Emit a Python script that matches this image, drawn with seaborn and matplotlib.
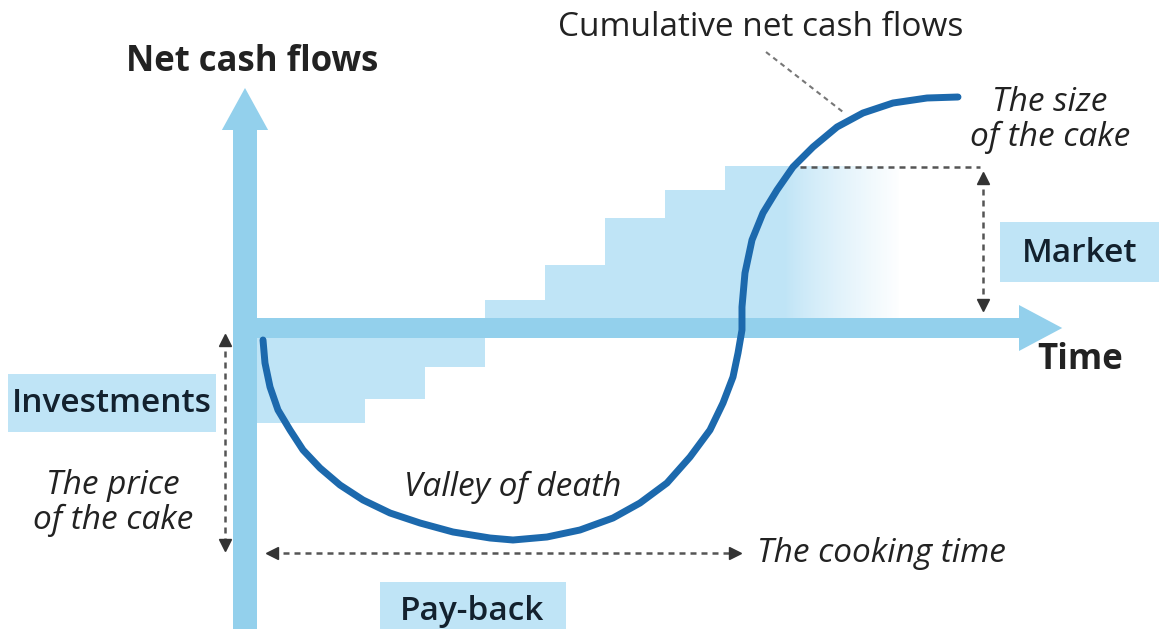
import matplotlib
matplotlib.use("Agg")
import numpy as np
import matplotlib.pyplot as plt
from matplotlib.patches import Rectangle, FancyArrow
from matplotlib.transforms import Affine2D
import seaborn as sns

# net cash flow per period (step bars)
period_start = [0, 2, 3, 4, 5, 6, 7, 8]
period_width = [2, 1, 1, 1, 1, 1, 1, 2.9]
cash_flow = [-9.5, -7.1, -3.9, 2.8, 6.3, 11.0, 13.8, 16.2]

# cumulative net cash flows
curve_t = [0.300, 0.333, 0.417, 0.550, 0.750, 0.967, 1.250, 1.583, 1.967, 2.417,
           2.917, 3.467, 4.083, 4.467, 5.033, 5.583, 6.133, 6.583, 7.033, 7.417,
           7.750, 7.967, 8.133, 8.217, 8.283, 8.283, 8.333, 8.450, 8.633, 8.867,
           9.133, 9.467, 9.867, 10.300, 10.800, 11.367, 11.883]
curve_v = [-1.2, -3.5, -5.9, -8.2, -10.2, -12.2, -14.0, -15.7, -17.2, -18.5,
           -19.5, -20.4, -21.0, -21.2, -20.9, -20.2, -19.0, -17.5, -15.5, -12.9,
           -10.2, -7.5, -4.9, -2.5, -0.2, 2.1, 5.5, 8.8, 11.5, 13.8,
           16.1, 18.1, 20.1, 21.5, 22.5, 23.0, 23.1]

W, H = 1159, 629
AXIS_BLUE = "#93d0ec"
BAR_BLUE = "#bfe4f6"
CURVE_BLUE = "#1c69ad"
DARK = "#222222"
BOX_TEXT = "#13212e"
GREY = "#555555"

sns.set_style("white")
plt.rcParams["font.family"] = ["Open Sans", "DejaVu Sans"]

fig = plt.figure(figsize=(W / 100, H / 100), dpi=100)
ax = fig.add_axes([0, 0, 1, 1])

# pixel transform for the annotations (origin top-left)
pix = Affine2D().scale(1 / W, -1 / H).translate(0, 1) + fig.transFigure

# step bars
ax.bar(period_start, cash_flow, width=period_width, align="edge",
       color=BAR_BLUE, linewidth=0, zorder=1)

# fade out the last bar
grad = np.ones((2, 256, 4))
grad[..., 3] = np.linspace(0, 1, 256) ** 0.8
ax.imshow(grad, extent=(9.0, 10.95, 0, 17), aspect="auto", zorder=1.5,
          interpolation="bilinear")

# axes arrows
ax.add_patch(FancyArrow(-0.1, 0, 13.72, 0, width=2.0, head_width=4.6, head_length=0.72,
                        length_includes_head=True, color=AXIS_BLUE, lw=0, zorder=2))
ax.add_patch(FancyArrow(0, -31, 0, 55, width=0.4, head_width=0.77, head_length=4.2,
                        length_includes_head=True, color=AXIS_BLUE, lw=0, zorder=2))

# cumulative curve
sns.lineplot(x=curve_t, y=curve_v, sort=False, estimator=None, color=CURVE_BLUE,
             lw=5, ax=ax, zorder=4, solid_joinstyle="round")
ax.set_xlim(-245 / 60, (W - 245) / 60)
ax.set_ylim((328 - H) / 10, 328 / 10)
ax.axis("off")


def dashed(x0, y0, x1, y1, heads=True, color=GREY, lw=1.8):
    ax.plot([x0, x1], [y0, y1], transform=pix, color=color, lw=lw,
            linestyle=(0, (2.4, 2.0)), zorder=5)
    if heads:
        m0, m1 = ("^", "v") if x0 == x1 else ("<", ">")
        ax.plot([x0], [y0], marker=m0, ms=9, color="#333333", transform=pix, zorder=6)
        ax.plot([x1], [y1], marker=m1, ms=9, color="#333333", transform=pix, zorder=6)


# label boxes
for (x0, y0, x1, y1) in [(1000, 222, 1159, 282), (8, 374, 216, 432), (380, 582, 566, 640)]:
    ax.add_patch(Rectangle((x0, y0), x1 - x0, y1 - y0, transform=pix,
                           facecolor=BAR_BLUE, edgecolor="none", zorder=3))

# dashed guides
dashed(800, 167, 980, 167, heads=False)
dashed(983, 178, 983, 305)
dashed(225, 340, 225, 545)
dashed(272, 553, 735, 553)
dashed(766, 52, 843, 112, heads=False, color="#777777", lw=1.5)

# texts
ax.text(252, 62, "Net cash flows", transform=pix, ha="center", va="center",
        fontsize=25, fontweight="bold", color=DARK)
ax.text(761, 28, "Cumulative net cash flows", transform=pix, ha="center", va="center",
        fontsize=24, color=DARK)
ax.text(1050, 120, "The size\nof the cake", transform=pix, ha="center", va="center",
        fontsize=24, style="italic", color=DARK, linespacing=1.05)
ax.text(1080, 253, "Market", transform=pix, ha="center", va="center",
        fontsize=24, fontweight="semibold", color=BOX_TEXT, zorder=4)
ax.text(1080, 360, "Time", transform=pix, ha="center", va="center",
        fontsize=25, fontweight="bold", color=DARK)
ax.text(112, 403, "Investments", transform=pix, ha="center", va="center",
        fontsize=24, fontweight="semibold", color=BOX_TEXT, zorder=4)
ax.text(113, 503, "The price\nof the cake", transform=pix, ha="center", va="center",
        fontsize=24, style="italic", color=DARK, linespacing=1.05)
ax.text(513, 487, "Valley of death", transform=pix, ha="center", va="center",
        fontsize=24, style="italic", color=DARK, zorder=5)
ax.text(757, 553, "The cooking time", transform=pix, ha="left", va="center",
        fontsize=24, style="italic", color=DARK)
ax.text(472, 612, "Pay-back", transform=pix, ha="center", va="center",
        fontsize=24, fontweight="semibold", color=BOX_TEXT, zorder=4)

fig.savefig("out.png", dpi=100)
